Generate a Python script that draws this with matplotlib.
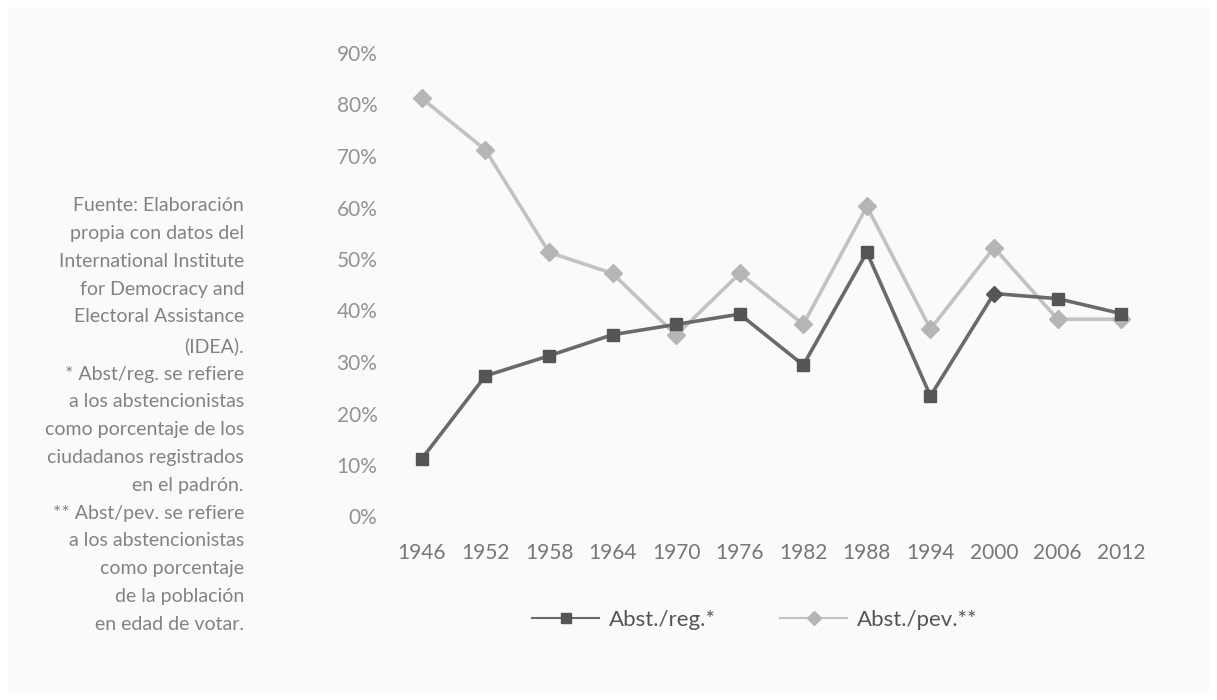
import matplotlib.pyplot as plt
import numpy as np
from matplotlib.patches import Rectangle
from matplotlib.ticker import FuncFormatter

# Abstencionismo en México, 1946-2012
years = ['1946', '1952', '1958', '1964', '1970', '1976',
         '1982', '1988', '1994', '2000', '2006', '2012']
abst_reg = [11.2, 27.3, 31.2, 35.3, 37.3, 39.3, 29.4, 51.3, 23.4, 43.3, 42.3, 39.4]
abst_pev = [81.2, 71.2, 51.3, 47.2, 35.2, 47.2, 37.3, 60.2, 36.4, 52.2, 38.3, 38.3]
y_ticks = [0, 10, 20, 30, 40, 50, 60, 70, 80, 90]

nota = ('Fuente: Elaboración\n'
        'propia con datos del\n'
        'International Institute\n'
        'for Democracy and\n'
        'Electoral Assistance\n'
        '(IDEA).\n'
        '* Abst/reg. se refiere\n'
        'a los abstencionistas\n'
        'como porcentaje de los\n'
        'ciudadanos registrados\n'
        'en el padrón.\n'
        '** Abst/pev. se refiere\n'
        'a los abstencionistas\n'
        'como porcentaje\n'
        'de la población\n'
        'en edad de votar.')

plt.rcParams['font.family'] = ['Lato', 'DejaVu Sans']

W, H = 1217, 700
fig = plt.figure(figsize=(W / 100, H / 100), dpi=100, facecolor='white')
fig.patches.append(Rectangle((8 / W, 8 / H), 1 - 16 / W, 1 - 15 / H,
                             transform=fig.transFigure, facecolor='#fafafa',
                             edgecolor='none', zorder=-5))

ax = fig.add_axes([390 / W, 1 - 516.5 / H, 763 / W, 463.5 / H])
ax.set_facecolor('none')
ax.set_zorder(2)

x = np.arange(len(years))
reg_marks = [i for i in range(len(years)) if years[i] != '2000']
ax.plot(x, abst_reg, color='#6a6a6a', lw=2.6, marker='s', ms=9,
        mfc='#555555', mec='#555555', markevery=reg_marks,
        label='Abst./reg.*', zorder=3)
# en el original el punto de 2000 aparece como rombo
i00 = years.index('2000')
ax.plot(x[i00:i00 + 1], abst_reg[i00:i00 + 1], ls='none', marker='D', ms=8.5,
        mfc='#555555', mec='#555555', zorder=4)
ax.plot(x, abst_pev, color='#c2c2c2', lw=2.6, marker='D', ms=9,
        mfc='#b5b5b5', mec='#b5b5b5', label='Abst./pev.**', zorder=2)

ax.set_xlim(-0.5, 11.5)
ax.set_ylim(0, 90)
ax.set_xticks(x)
ax.set_xticklabels(years)
ax.set_yticks(y_ticks)
ax.yaxis.set_major_formatter(FuncFormatter(lambda v, p: '%d%%' % v))
ax.tick_params(axis='x', length=0, pad=19, labelsize=15, labelcolor='#767676')
ax.tick_params(axis='y', length=0, pad=9, labelsize=15, labelcolor='#939393')
for s in ax.spines.values():
    s.set_visible(False)

fig.text(244 / W, 1 - 415 / H, nota, ha='right', va='center',
         multialignment='right', fontsize=14, color='#828282',
         linespacing=1.77)

leg = fig.legend(loc='center', bbox_to_anchor=(755 / W, 1 - 620 / H), ncol=2,
                 frameon=False, fontsize=16, labelcolor='#555555',
                 handlelength=3.0, handletextpad=0.45, columnspacing=2.9)
for ln in leg.get_lines():
    ln.set_linewidth(1.5)
    ln.set_markersize(7)

fig.savefig('out.png', dpi=100, facecolor='white')
